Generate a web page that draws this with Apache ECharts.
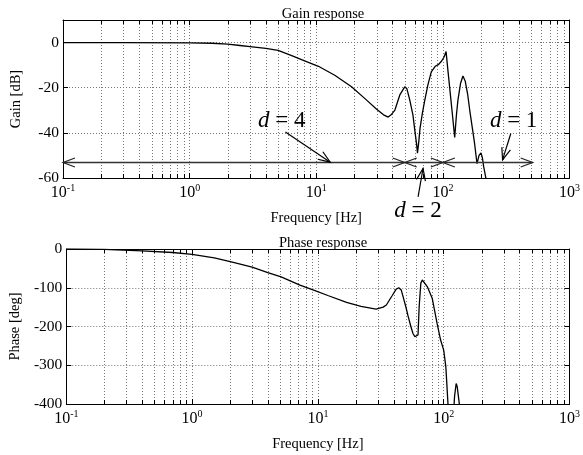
<!DOCTYPE html>
<html><head><meta charset="utf-8">
<script src="https://cdn.jsdelivr.net/npm/echarts@6/dist/echarts.min.js"></script>
<style>html,body{margin:0;padding:0;background:#fff}#c{width:583px;height:455px}</style>
</head><body><div id="c"></div>
<script>
// ---- data (frequency in Hz) ----
const gainFreq = [0.1,0.3,1,1.5,2,2.5,3,4,5,6.4,8,10.4,14,19,25,30,34,37,39,41.8,45.7,50,52,54.8,58,60,62,63,64.5,66,69,72,76,81,87,92,97,102,106,109,113,118,124,128,131.5,138,144,150,157,163,170,178,186,193,200,205,210,222,235];
const gainDb   = [0,0,-0.1,-0.3,-0.7,-1.3,-1.8,-2.6,-3.5,-5.8,-8,-10.5,-14.5,-19.6,-25.5,-29.5,-32,-33,-32,-29.9,-23.2,-19.6,-20.5,-25.5,-32,-38.8,-45,-49,-44,-38,-31,-25.5,-19,-13,-10.5,-9.8,-8.4,-6.5,-4,-11,-19.6,-30,-42,-32,-25.5,-18,-14.8,-17,-23,-30,-37,-44.7,-53.6,-50,-48.9,-51,-55,-62,-75];
const phaseFreq = [0.1,0.2,0.4,0.7,1,1.5,2.05,3,4,5.1,7.2,9.25,12,16.9,22,29,33,35,39,41.8,43.9,46,48,50,52,54.8,57,59,61,62.5,63.8,65.8,67.6,70,74,81,88.6,94.5,100,104,108,111,115,119,122,125.6,128,132,136];
const phaseDeg  = [0,-1,-5,-9,-14,-23,-33,-47,-61,-72,-93,-106,-120,-138,-148,-155,-150,-144.5,-120,-104,-100,-106,-128,-149,-172,-200,-218,-226,-230,-222,-149,-88,-80,-84,-97,-127,-192,-235,-261,-304,-397,-460,null,-440,-380,-347,-355,-390,-425];
const decadeExponents = [-1,0,1,2,3];
const gainTicks = [-60,-40,-20,0];
const phaseTicks = [-400,-300,-200,-100,0];
const minorMultipliers = [2,3,4,5,6,7,8,9];
// annotation: partition line with double arrows
const spanStartHz = [0.1,50,100];
const spanEndHz   = [50,100,512];
const spanLevelDb = -53;
const pointerTailHz = [5.71,63.7,344];
const pointerTailDb = [-39.6,-68.4,-40.3];
const pointerTipHz  = [12.9,69.7,296];
const pointerTipDb  = [-53,-55.8,-52];
const labelValues = ['4','2','1'];
const labelHz = [5.35,63.7,362];
const labelDb = [-34.8,-74.8,-34.8];

const L = Math.log10;
const FONT = "'Liberation Serif','DejaVu Serif',serif";
const GAIN_MIN=-60, GAIN_MAX=10, PH_MIN=-400, PH_MAX=0;
const minorX = [];
decadeExponents.slice(0,-1).forEach(e=>minorMultipliers.forEach(m=>minorX.push(L(m)+e)));

function xAxisPair(gi){
  const base = {type:'value', gridIndex:gi, min:-1, max:3, interval:1,
    axisLine:{show:true, onZero:false, lineStyle:{color:'#000',width:1}},
    axisTick:{show:true, inside:true, length:5, lineStyle:{color:'#000'}},
    splitLine:{show:false}};
  return [
    Object.assign({}, base, {position:'bottom',
      splitLine:{show:true, lineStyle:{color:'#777', type:[1,2]}},
      axisLabel:{margin:5, formatter:v=>'{b|10}{s|'+v+'}',
        rich:{b:{fontFamily:FONT,fontSize:16,color:'#000',lineHeight:18,verticalAlign:'bottom'},
              s:{fontFamily:FONT,fontSize:10,color:'#000',lineHeight:10,verticalAlign:'top'}}},
      name:'Frequency [Hz]', nameLocation:'middle', nameGap:33,
      nameTextStyle:{fontFamily:FONT,fontSize:14.5,color:'#000'}}),
    Object.assign({}, base, {position:'top', axisLabel:{show:false}})
  ];
}
function yAxisPair(gi, min, max, interval, ticks, name){
  const base = {type:'value', gridIndex:gi, min:min, max:max, interval:interval,
    axisLine:{show:true, onZero:false, lineStyle:{color:'#000',width:1}},
    axisTick:{show:true, inside:true, length:5, lineStyle:{color:'#000'}},
    splitLine:{show:false}};
  return [
    Object.assign({}, base, {position:'left',
      splitLine:{show:true, lineStyle:{color:'#777', type:[1,2]}},
      axisLabel:{margin:4, fontFamily:FONT, fontSize:15.5, color:'#000',
        formatter:v=>ticks.indexOf(v)>=0 ? String(v) : ''},
      name:name, nameLocation:'middle', nameGap:39,
      nameTextStyle:{fontFamily:FONT,fontSize:14.5,color:'#000'}}),
    Object.assign({}, base, {position:'right', axisLabel:{show:false}})
  ];
}
function minorGrid(xi, yi, ymin, ymax){
  return {type:'custom', xAxisIndex:xi, yAxisIndex:yi, silent:true, z:1,
    data:minorX.map(v=>[v,ymin]), encode:{x:0,y:1},
    renderItem:(p,api)=>{
      const b=api.coord([api.value(0),ymin]), t=api.coord([api.value(0),ymax]);
      const x=Math.round(b[0])+0.5;
      return {type:'group', children:[
        {type:'line', shape:{x1:x,y1:b[1],x2:x,y2:t[1]}, style:{stroke:'#777',lineWidth:1,lineDash:[1,2]}},
        {type:'line', shape:{x1:x,y1:b[1],x2:x,y2:b[1]-4}, style:{stroke:'#000',lineWidth:1}},
        {type:'line', shape:{x1:x,y1:t[1],x2:x,y2:t[1]+4}, style:{stroke:'#000',lineWidth:1}}]};
    }};
}
const AL=12, AW=4.5;
function head(tip, from, stroke){
  const dx=from[0]-tip[0], dy=from[1]-tip[1], d=Math.hypot(dx,dy)||1;
  const ux=dx/d, uy=dy/d;
  return {type:'polyline', shape:{points:[[tip[0]+ux*AL-uy*AW, tip[1]+uy*AL+ux*AW],[tip[0],tip[1]],[tip[0]+ux*AL+uy*AW, tip[1]+uy*AL-ux*AW]]},
    style:{stroke:stroke,lineWidth:1.2,fill:null}};
}

const chart = echarts.init(document.getElementById('c'), null, {renderer:'canvas'});
chart.setOption({
  backgroundColor:'#fff',
  animation:false,
  title:[
    {text:'Gain response', left:318, top:2, textAlign:'center', textStyle:{fontFamily:FONT,fontSize:14.5,fontWeight:'normal',color:'#000'}},
    {text:'Phase response', left:318, top:231, textAlign:'center', textStyle:{fontFamily:FONT,fontSize:14.5,fontWeight:'normal',color:'#000'}}
  ],
  grid:[
    {left:63, right:10, top:20, height:158},
    {left:63, right:10, top:249, height:155}
  ],
  xAxis:[...xAxisPair(0), ...xAxisPair(1)],
  yAxis:[...yAxisPair(0,GAIN_MIN,GAIN_MAX,20,gainTicks,'Gain [dB]'), ...yAxisPair(1,PH_MIN,PH_MAX,100,phaseTicks,'Phase [deg]')],
  series:[
    minorGrid(0,0,GAIN_MIN,GAIN_MAX),
    minorGrid(2,2,PH_MIN,PH_MAX),
    {type:'line', xAxisIndex:0, yAxisIndex:0, z:5, showSymbol:false, clip:true, smooth:false,
      lineStyle:{color:'#000',width:1.3}, data:gainFreq.map((f,i)=>[L(f),gainDb[i]])},
    {type:'line', xAxisIndex:2, yAxisIndex:2, z:5, showSymbol:false, clip:true, smooth:false, connectNulls:false,
      lineStyle:{color:'#000',width:1.3}, data:phaseFreq.map((f,i)=>[L(f),phaseDeg[i]])},
    {type:'custom', xAxisIndex:0, yAxisIndex:0, z:6, silent:true, clip:false,
      data:spanStartHz.map((s,i)=>[L(s),spanLevelDb,L(spanEndHz[i])]), encode:{x:0,y:1},
      renderItem:(p,api)=>{
        const a=api.coord([api.value(0),api.value(1)]), b=api.coord([api.value(2),api.value(1)]);
        const y=Math.round(a[1])+0.5;
        const A=[a[0],y], B=[b[0],y];
        return {type:'group', children:[
          {type:'line', shape:{x1:A[0],y1:y,x2:B[0],y2:y}, style:{stroke:'#333',lineWidth:1.6}},
          head(A,B,'#222'), head(B,A,'#222')]};
      }},
    {type:'custom', xAxisIndex:0, yAxisIndex:0, z:6, silent:true, clip:false,
      data:pointerTailHz.map((f,i)=>[L(f),pointerTailDb[i],L(pointerTipHz[i]),pointerTipDb[i]]), encode:{x:0,y:1},
      renderItem:(p,api)=>{
        const a=api.coord([api.value(0),api.value(1)]), b=api.coord([api.value(2),api.value(3)]);
        return {type:'group', children:[
          {type:'line', shape:{x1:a[0],y1:a[1],x2:b[0],y2:b[1]}, style:{stroke:'#000',lineWidth:1.2}},
          head(b,a,'#000')]};
      }},
    {type:'custom', xAxisIndex:0, yAxisIndex:0, z:7, silent:true, clip:false,
      data:labelHz.map((f,i)=>[L(f),labelDb[i],i]), encode:{x:0,y:1},
      renderItem:(p,api)=>{
        const c=api.coord([api.value(0),api.value(1)]);
        return {type:'text', x:c[0], y:c[1], style:{
          text:'{i|d} = '+labelValues[api.value(2)], align:'center', verticalAlign:'middle',
          fontFamily:FONT, fontSize:23, fill:'#000',
          rich:{i:{fontFamily:FONT,fontSize:23,fontStyle:'italic',fill:'#000'}}}};
      }}
  ]
});
</script></body></html>
